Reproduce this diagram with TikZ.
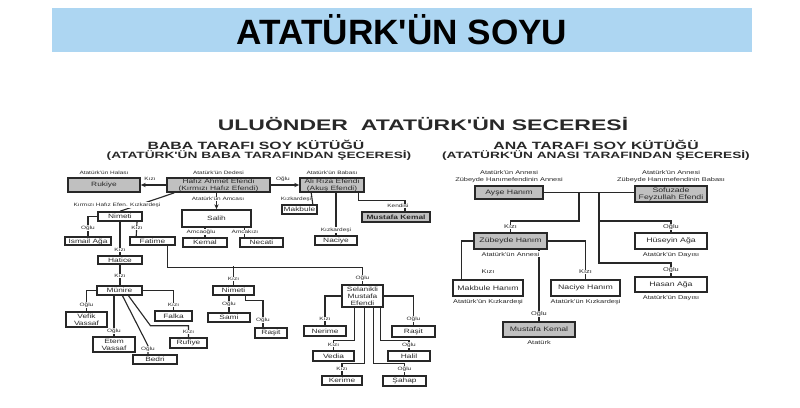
\documentclass[tikz,border=0pt]{standalone}
\usepackage{fontspec}
\setmainfont{Liberation Sans}
\newfontfamily\titlefont{Liberation Sans}
\newfontfamily\widefont[FakeStretch=1.35]{Liberation Sans}
\newfontfamily\headfont[FakeStretch=1.5]{Liberation Sans}
\usetikzlibrary{arrows.meta, positioning, calc}

\definecolor{barblue}{RGB}{173,214,242}
\definecolor{boxgray}{RGB}{192,192,192}
\definecolor{inkgray}{RGB}{40,40,40}

\newcommand{\boxfont}{\widefont\fontsize{4.4}{5}\selectfont}
\newcommand{\anafont}{\widefont\fontsize{4.6}{5.2}\selectfont}
\newcommand{\notefont}{\widefont\fontsize{3.4}{4}\selectfont}
\newcommand{\anotefont}{\widefont\fontsize{3.9}{4.6}\selectfont}

\begin{document}
\begin{tikzpicture}[
  x=0.025cm, y=-0.025cm,
  sz/.style 2 args={minimum width=#1*0.025cm, minimum height=#2*0.025cm},
  pbox/.style={rectangle, draw=inkgray, line width=1.1pt, fill=white,
    inner sep=0.5pt, align=center, font=\boxfont, text=inkgray},
  gbox/.style={pbox, fill=boxgray},
  abox/.style={pbox, font=\anafont},
  agbox/.style={gbox, font=\anafont},
  link/.style={draw=inkgray, line width=0.8pt},
  arr/.style={link, -{Stealth[length=3.5pt, width=3pt]}},
  rel/.style={fill=white, inner sep=0.4pt, font=\notefont, text=inkgray},
  arel/.style={rel, font=\anotefont},
  note/.style={fill=white, inner sep=0.4pt, font=\notefont, text=inkgray, align=center},
  anote/.style={note, font=\anotefont},
  head/.style={font=\headfont\bfseries\fontsize{7.5}{9}\selectfont, text=inkgray, inner sep=0pt},
  subhead/.style={font=\headfont\bfseries\fontsize{6.5}{8}\selectfont, text=inkgray, inner sep=0pt}
]
  \useasboundingbox (0,0) rectangle (800,407);

  % basliklar
  \node[fill=barblue, sz={700}{44}, inner sep=0pt, font=\titlefont\bfseries\fontsize{25}{29}\selectfont] (title) at (402,30) {ATATÜRK'ÜN SOYU};
  \node[font=\headfont\bfseries\fontsize{10.9}{12}\selectfont, text=inkgray, inner sep=0pt] (seceresi) at (423,124) {ULUÖNDER\ \ ATATÜRK'ÜN SECERESİ};
  \node[head] (baba) at (256,145) {BABA TARAFI SOY KÜTÜĞÜ};
  \node[subhead] (babaalt) at (259,156) {(ATATÜRK'ÜN BABA TARAFINDAN ŞECERESİ)};
  \node[head] (ana) at (596,145) {ANA TARAFI SOY KÜTÜĞÜ};
  \node[subhead] (anaalt) at (596,156) {(ATATÜRK'ÜN ANASI TARAFINDAN ŞECERESİ)};

  % baba tarafi
  \node[gbox, sz={72}{14}] (rukiye) at (104,185) {Rukiye};
  \node[gbox, sz={103}{14}] (hafiz) at (218.5,185) {Hafız Ahmet Efendi\\(Kırmızı Hafız Efendi)};
  \node[gbox, sz={64}{14}] (ali) at (332,185) {Ali Rıza Efendi\\(Akuş Efendi)};
  \node[pbox, sz={35}{9}] (makbule) at (299.5,209.5) {Makbule};
  \node[pbox, sz={42}{9}] (naciye) at (336,240.5) {Naciye};
  \node[gbox, sz={68}{10}, font=\boxfont\bfseries] (kemal) at (396,217) {Mustafa Kemal};
  \node[pbox, sz={69}{17}] (salih) at (216.5,218.5) {Salih};
  \node[pbox, sz={44}{9}] (amcaoglu) at (205,242.5) {Kemal};
  \node[pbox, sz={43}{9}] (necati) at (261.5,242.5) {Necati};
  \node[pbox, sz={44}{9}] (nimeti) at (120,216.5) {Nimeti};
  \node[pbox, sz={46}{8}] (ismail) at (88,241) {İsmail Ağa};
  \node[pbox, sz={45}{8}] (fatime) at (152.5,241) {Fatime};
  \node[pbox, sz={44}{8}] (hatice) at (120,260) {Hatice};
  \node[pbox, sz={45}{9}] (munire) at (119.5,290.5) {Münire};
  \node[pbox, sz={41}{15}] (vefik) at (86.5,319.5) {Vefik\\Vassaf};
  \node[pbox, sz={42}{15}] (etem) at (114,344.5) {Etem\\Vassaf};
  \node[pbox, sz={44}{9}] (bedri) at (155,359.5) {Bedri};
  \node[pbox, sz={37}{10}] (rufiye) at (188.5,343) {Rufiye};
  \node[pbox, sz={37}{10}] (falka) at (173.5,316) {Falka};
  \node[pbox, sz={41}{9}] (nimeti2) at (233.5,290.5) {Nimeti};
  \node[pbox, sz={42}{9}] (sami) at (229,317.5) {Sami};
  \node[pbox, sz={32}{10}] (rasit) at (271,333) {Raşit};
  \node[pbox, sz={41}{22}] (selanikli) at (362.5,296) {Selanikli\\Mustafa\\Efendi};
  \node[pbox, sz={42}{10}] (nerime) at (325,331) {Nerime};
  \node[pbox, sz={41}{10}] (vedia) at (333.5,356) {Vedia};
  \node[pbox, sz={40}{9}] (kerime) at (342,380.5) {Kerime};
  \node[pbox, sz={43}{10}] (sahap) at (404.5,381) {Şahap};
  \node[pbox, sz={42}{10}] (halil) at (409,356) {Halil};
  \node[pbox, sz={43}{11}] (rasit3) at (413.5,331.5) {Raşit};

  % ana tarafi
  \node[agbox, sz={68}{13}] (ayse) at (509,192.5) {Ayşe Hanım};
  \node[agbox, sz={72}{16}] (sofuzade) at (671,194) {Sofuzade\\Feyzullah Efendi};
  \node[agbox, sz={73}{16}] (zubeyde) at (510.5,241) {Zübeyde Hanım};
  \node[abox, sz={72}{16}] (huseyin) at (671,241) {Hüseyin Ağa};
  \node[abox, sz={72}{15}] (hasan) at (671,284.5) {Hasan Ağa};
  \node[abox, sz={70}{16}] (makbule2) at (488,288) {Makbule Hanım};
  \node[abox, sz={69}{16}] (naciye2) at (585.5,288) {Naciye Hanım};
  \node[agbox, sz={72}{15}] (mustafa) at (539,329.5) {Mustafa Kemal};

  % baba tarafi baglar
  \draw[arr] (hafiz) -- (rukiye);
  \draw[arr] (hafiz) -- (ali);
  \draw[arr] (hafiz.south -| salih.north) -- (salih.north);
  \draw[link] ($(hafiz.south west)+(8,0)$) -- (nimeti.north);
  \draw[link] ($(ali.south west)+(12,0)$) -- ($(makbule.north east)+(-5,0)$);
  \draw[link] (ali.south -| naciye.north) -- (naciye.north);
  \draw[link] ($(ali.south east)+(-6,0)$) -- ++(0,8) -| ($(kemal.north)+(9,0)$);
  \draw[link] (salih.south -| amcaoglu.north) -- (amcaoglu.north);
  \draw[link] ($(salih.south west)+(63,0)$) -- ($(necati.north west)+(5,0)$);
  \draw[link] (nimeti.west) -| (ismail.north);
  \draw[link] (nimeti.south) -- (hatice.north);
  \draw[link] ($(nimeti.south)+(17,0)$) -- ($(fatime.north west)+(7,0)$);
  \draw[link] ($(fatime.south east)+(-8,0)$) -- ++(0,22) -| (selanikli.north);
  \draw[link] (nimeti2.north) -- ++(0,-19);
  \draw[link] (hatice.south) -- (hatice.south |- munire.north);
  \draw[link] (nimeti2.south -| sami.north) -- (sami.north);
  \draw[link] ($(nimeti2.south east)+(-9,0)$) -- ++(0,5) -| ($(rasit.north)+(-8,0)$);
  \draw[link] (munire.west) -| (vefik.north);
  \draw[link] (munire.south -| etem.north) -- (etem.north);
  \draw[link] ($(munire.south)+(3,0)$) -- ++(25.5,50) -- ++(0,10);
  \draw[link] ($(munire.south)+(9,0)$) -- ++(22,30) -| (rufiye.north);
  \draw[link] (munire.east) -| (falka.north);
  \draw[link] (selanikli.west) -| (nerime.north);
  \draw[link] ($(selanikli.south west)+(13,0)$) -- ++(0,33) -| (vedia.north);
  \draw[link] ($(selanikli.south west)+(23,0)$) -- ++(0,56) -| (kerime.north);
  \draw[link] ($(selanikli.south east)+(-10,0)$) -- ++(0,56) -| (sahap.north);
  \draw[link] ($(selanikli.south east)+(-3,0)$) -- ++(0,33) -| (halil.north);
  \draw[link] (selanikli.east) -| (rasit3.north);

  % ana tarafi baglar
  \coordinate (kizkol) at (579,193);
  \coordinate (ogulkol) at (599,193);
  \draw[link] (ayse.east) -- (sofuzade.west |- ayse.east);
  \draw[link] (kizkol) -- ++(0,28) -| (zubeyde.north);
  \draw[link] (ogulkol) -- ++(0,28) -| (huseyin.north);
  \draw[link] (ogulkol) -- ++(0,70) -| (hasan.north);
  \draw[link] (zubeyde.west) -| ($(makbule2.north west)+(9,0)$);
  \draw[link] (zubeyde.east) -| (naciye2.north);
  \draw[link] (zubeyde.south -| mustafa.north) -- (mustafa.north);

  % notlar
  \node[note, above=1.5pt of rukiye] (n-hala) {Atatürk'ün Halası};
  \node[note, above=1.5pt of hafiz] (n-dede) {Atatürk'ün Dedesi};
  \node[note, above=1.5pt of ali] (n-baba) {Atatürk'ün Babası};
  \node[note] (n-kizkardes) at (117,205) {Kırmızı Hafız Efen. Kızkardeşi};
  \node[note] (n-amca) at (218,199) {Atatürk'ün Amcası};
  \node[note, fill=none] (n-makbule) at (296,199) {Kızkardeşi};
  \node[note, above=1.5pt of naciye] (n-naciye) {Kızkardeşi};
  \node[note] (n-kendisi) at (398,206) {Kendisi};
  \node[note] (n-amcaoglu) at (201,232) {Amcaoğlu};
  \node[note] (n-amcakizi) at (245,232) {Amcakızı};
  \node[anote, above=1.5pt of ayse] (n-ayse) {Atatürk'ün Annesi\\Zübeyde Hanımefendinin Annesi};
  \node[anote, above=1.5pt of sofuzade] (n-sofuzade) {Atatürk'ün Annesi\\Zübeyde Hanımefendinin Babası};
  \node[anote, below=1pt of zubeyde] (n-zubeyde) {Atatürk'ün Annesi};
  \node[anote, below=1pt of huseyin] (n-huseyin) {Atatürk'ün Dayısı};
  \node[anote, below=1pt of hasan] (n-hasan) {Atatürk'ün Dayısı};
  \node[anote, below=1pt of makbule2] (n-makbule2) {Atatürk'ün Kızkardeşi};
  \node[anote, below=1pt of naciye2] (n-naciye2) {Atatürk'ün Kızkardeşi};
  \node[anote, below=1pt of mustafa] (n-mustafa) {Atatürk};

  % yakinlik etiketleri
  \node[rel] (r-rukiye) at (150,179) {Kızı};
  \node[rel] (r-ali) at (283,179) {Oğlu};
  \node[rel] (r-ismail) at (88,228) {Oğlu};
  \node[rel] (r-fatime) at (137,228) {Kızı};
  \node[rel] (r-hatice) at (120,250) {Kızı};
  \node[rel] (r-munire) at (120,276) {Kızı};
  \node[rel] (r-nimeti2) at (233.5,279) {Kızı};
  \node[rel] (r-selanikli) at (362.5,278) {Oğlu};
  \node[rel] (r-sami) at (229,304) {Oğlu};
  \node[rel] (r-rasit) at (263,320) {Oğlu};
  \node[rel] (r-vefik) at (86.5,305) {Oğlu};
  \node[rel] (r-etem) at (114,331) {Oğlu};
  \node[rel] (r-bedri) at (148,349) {Oğlu};
  \node[rel] (r-rufiye) at (188.5,332) {Kızı};
  \node[rel] (r-falka) at (173.5,305) {Kızı};
  \node[rel] (r-nerime) at (325,319) {Kızı};
  \node[rel] (r-vedia) at (333.5,345) {Kızı};
  \node[rel] (r-kerime) at (342,369) {Kızı};
  \node[rel] (r-sahap) at (404.5,369) {Oğlu};
  \node[rel] (r-halil) at (409,345) {Oğlu};
  \node[rel] (r-rasit3) at (413.5,319) {Oğlu};
  \node[arel] (r-zubeyde) at (510.5,227) {Kızı};
  \node[arel] (r-huseyin) at (671,227) {Oğlu};
  \node[arel] (r-hasan) at (671,270) {Oğlu};
  \node[arel] (r-makbule2) at (488,272) {Kızı};
  \node[arel] (r-naciye2) at (585.5,272) {Kızı};
  \node[arel] (r-mustafa) at (539,314) {Oğlu};
\end{tikzpicture}
\end{document}
